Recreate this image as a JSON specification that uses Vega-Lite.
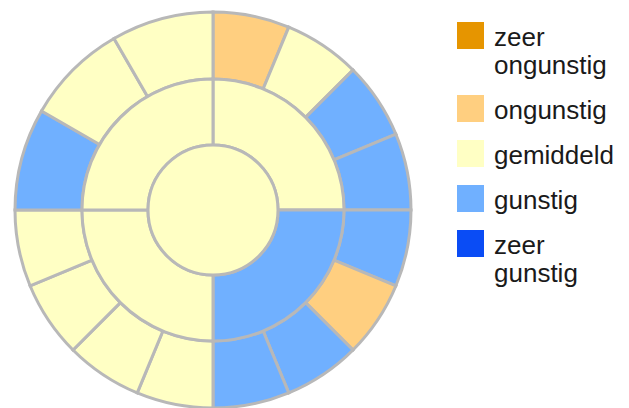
{
  "$schema": "https://vega.github.io/schema/vega-lite/v6.json",
  "width": 426,
  "height": 420,
  "padding": 0,
  "background": "white",
  "config": {"view": {"stroke": null}},
  "data": {
    "values": [
      {"ring": "binnen", "start": 0, "end": 360, "status": "gemiddeld"},
      {"ring": "midden", "start": 0, "end": 90, "status": "gemiddeld"},
      {"ring": "midden", "start": 90, "end": 180, "status": "gunstig"},
      {"ring": "midden", "start": 180, "end": 270, "status": "gemiddeld"},
      {"ring": "midden", "start": 270, "end": 360, "status": "gemiddeld"},
      {"ring": "buiten", "start": 0, "end": 22.5, "status": "ongunstig"},
      {"ring": "buiten", "start": 22.5, "end": 45, "status": "gemiddeld"},
      {"ring": "buiten", "start": 45, "end": 67.5, "status": "gunstig"},
      {"ring": "buiten", "start": 67.5, "end": 90, "status": "gunstig"},
      {"ring": "buiten", "start": 90, "end": 112.5, "status": "gunstig"},
      {"ring": "buiten", "start": 112.5, "end": 135, "status": "ongunstig"},
      {"ring": "buiten", "start": 135, "end": 157.5, "status": "gunstig"},
      {"ring": "buiten", "start": 157.5, "end": 180, "status": "gunstig"},
      {"ring": "buiten", "start": 180, "end": 202.5, "status": "gemiddeld"},
      {"ring": "buiten", "start": 202.5, "end": 225, "status": "gemiddeld"},
      {"ring": "buiten", "start": 225, "end": 247.5, "status": "gemiddeld"},
      {"ring": "buiten", "start": 247.5, "end": 270, "status": "gemiddeld"},
      {"ring": "buiten", "start": 270, "end": 300, "status": "gunstig"},
      {"ring": "buiten", "start": 300, "end": 330, "status": "gemiddeld"},
      {"ring": "buiten", "start": 330, "end": 360, "status": "gemiddeld"}
    ]
  },
  "encoding": {
    "theta": {"field": "start", "type": "quantitative", "stack": null, "scale": {"domain": [0, 360], "range": [0, 6.283185307179586]}},
    "theta2": {"field": "end"},
    "color": {
      "field": "status",
      "type": "nominal",
      "scale": {
        "domain": ["zeer ongunstig", "ongunstig", "gemiddeld", "gunstig", "zeer gunstig"],
        "range": ["#E69500", "#FFCF80", "#FFFFC4", "#70B0FF", "#0A4CF5"]
      },
      "legend": {
        "title": null,
        "orient": "none",
        "legendX": 457,
        "legendY": 32,
        "symbolType": "M-1,-1.74H1V0.26H-1Z",
        "symbolSize": 729,
        "symbolStrokeWidth": 0,
        "labelFont": "Liberation Sans",
        "labelFontSize": 26,
        "labelColor": "#1a1a1a",
        "labelOffset": 10,
        "labelBaseline": "alphabetic",
        "rowPadding": 16,
        "labelExpr": "datum.label == 'zeer ongunstig' ? ['zeer', 'ongunstig'] : datum.label == 'zeer gunstig' ? ['zeer', 'gunstig'] : datum.label"
      }
    }
  },
  "layer": [
    {
      "transform": [{"filter": "datum.ring == 'buiten'"}],
      "mark": {"type": "arc", "radius": 198, "radius2": 131, "stroke": "#B8B8B8", "strokeWidth": 3}
    },
    {
      "transform": [{"filter": "datum.ring == 'midden'"}],
      "mark": {"type": "arc", "radius": 131, "radius2": 65, "stroke": "#B8B8B8", "strokeWidth": 3}
    },
    {
      "transform": [{"filter": "datum.ring == 'binnen'"}],
      "mark": {"type": "arc", "radius": 65, "radius2": 0, "stroke": "#B8B8B8", "strokeWidth": 3}
    }
  ]
}
